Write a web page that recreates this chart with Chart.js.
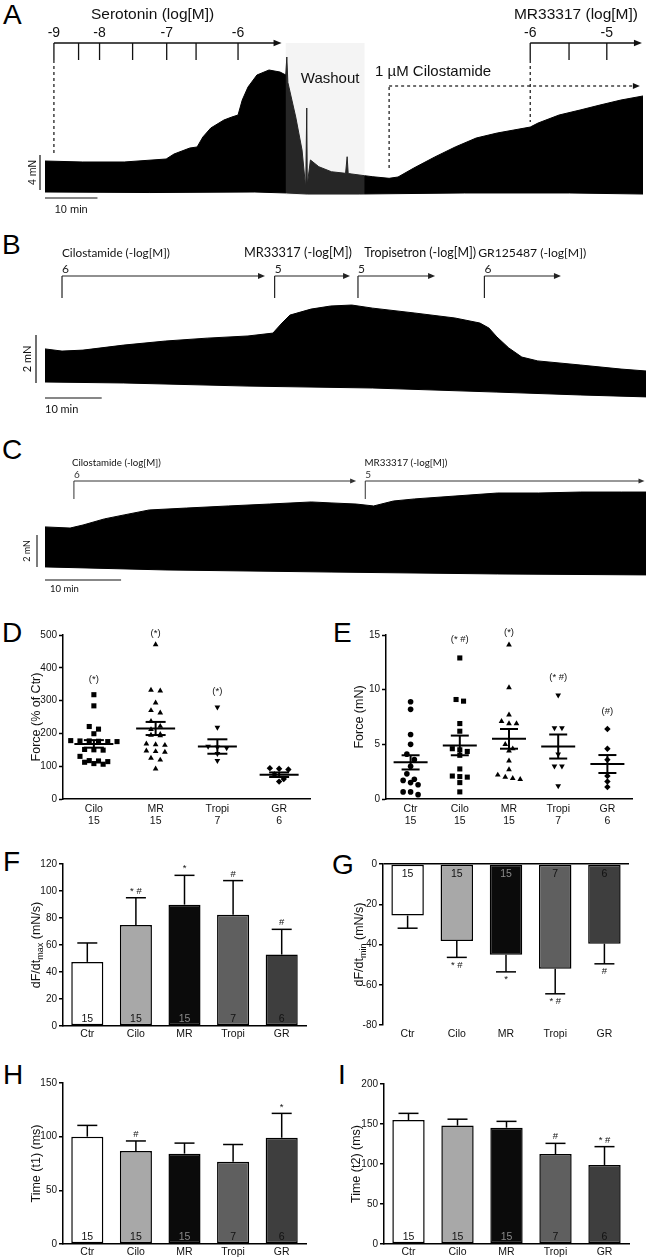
<!DOCTYPE html>
<html lang="en">
<head>
<meta charset="utf-8">
<title>Serotonin, cilostamide and 5-HT4 ligands on atrial force</title>
<script src="https://cdn.jsdelivr.net/npm/chart.js@4.4.1/dist/chart.umd.min.js"></script>
<style>
  html, body { margin: 0; padding: 0; background: #fff; }
  #fig { position: relative; width: 649px; height: 1259px; overflow: hidden; }
  #fig canvas { position: absolute; }
  .letter { position: absolute; font: 28px "Liberation Sans", Arial, sans-serif; line-height: 1; color: #000; }
</style>
</head>
<body>
<div id="fig">
  <div class="letter" style="left:3px;top:1px">A</div>
  <div class="letter" style="left:2px;top:231px">B</div>
  <div class="letter" style="left:2px;top:436px">C</div>
  <div class="letter" style="left:2px;top:619px">D</div>
  <div class="letter" style="left:333px;top:619px">E</div>
  <div class="letter" style="left:3px;top:848px">F</div>
  <div class="letter" style="left:332px;top:851px">G</div>
  <div class="letter" style="left:3px;top:1061px">H</div>
  <div class="letter" style="left:338px;top:1061px">I</div>
</div>
<script>
// ---- A: force trace, time in min, force in mN (upper / lower envelope)
const aTime = [0, 7.2, 15.1, 23.1, 24.6, 27.6, 29.0, 30.1, 31.6, 34.1, 35.6, 36.8, 37.6, 38.7, 40.4, 42.7, 44.8, 45.9,
  46.1, 46.3, 47.8, 49.0, 49.7, 49.9, 50.0, 50.6, 52.2, 54.6, 57.3, 57.6, 57.8, 58.5, 60.9, 62.5, 65.6, 67.3, 70.3,
  74.3, 78.2, 82.2, 86.2, 92.5, 94.0, 98.0, 102.0, 105.8, 109.8, 114];
const aTop = [4.44, 4.33, 4.33, 4.67, 5.24, 5.92, 6.04, 7.18, 8.20, 9.11, 9.45, 9.68, 11.39, 12.87, 14.24, 14.81, 14.58, 14.24,
  16.29, 13.4, 9.45, 5.69, 1.37, 10.48, 1.71, 4.56, 3.79, 3.22, 3.04, 4.93, 3.02, 2.96, 2.77, 2.65, 2.47, 2.62, 3.64,
  4.90, 6.04, 7.06, 7.63, 8.31, 8.77, 9.68, 10.25, 10.82, 11.39, 11.85];
const aBotTime = [0, 20, 40, 46, 50, 60, 80, 100, 114];
const aBot = [0.91, 0.85, 0.91, 0.8, 0.68, 0.68, 0.8, 0.8, 0.68];
const aSeroDoses = [1.7, 6.4, 10.4, 16.7, 23.2, 28.8, 36.8];
const aSeroLabels = ['-9', '', '-8', '', '-7', '', '-6'];
const aSeroEnd = 45.1;
const aMrDoses = [92.5, 99.9, 107.1];
const aMrLabels = ['-6', '', '-5'];
const aMrEnd = 113.8;
const aWashout = [45.9, 60.9];
const aCiloStart = 65.6, aCiloEnd = 113.4;

// ---- B
const bTime = [0, 3.0, 6.7, 13.9, 21.3, 28.6, 35.8, 40.2, 41.8, 43.2, 46.9, 50.4, 54.1, 57.8, 65.1, 72.3, 76.7, 78.3,
  79.7, 81.8, 84.1, 86.9, 94.4, 101.6, 106];
const bTop = [2.13, 2.04, 2.08, 2.29, 2.46, 2.58, 2.67, 2.79, 3.21, 3.54, 3.79, 3.92, 3.96, 3.83, 3.63, 3.42, 3.21, 3.0,
  2.63, 2.17, 1.79, 1.63, 1.46, 1.29, 1.21];
const bBotTime = [0, 13.9, 35.8, 57.8, 79.7, 94.4, 106];
const bBot = [0.75, 0.71, 0.58, 0.5, 0.33, 0.21, 0.13];
const bNames = ['Cilostamide (-log[M])', 'MR33317 (-log[M])', 'Tropisetron (-log[M])', 'GR125487 (-log[M])'];
const bConc = ['6', '5', '5', '6'];
const bDoses = [3.0, 40.5, 55.2, 77.5];
const bEnds = [38.8, 53.8, 68.8, 91.0];
const bNameAt = [3.0, 35.1, 56.3, 76.4];

// ---- C
const cTime = [0, 3.3, 5.0, 7.8, 10.4, 13.7, 18.6, 24.1, 29.5, 35.0, 37.6, 40.9, 43.2, 45.8, 48.6, 53.9, 59.5, 64.9, 70.4, 75.8, 79];
const cTop = [3.63, 3.56, 3.75, 4.13, 4.38, 4.69, 4.81, 4.94, 5.06, 5.19, 5.13, 5.06, 4.94, 5.25, 5.38, 5.56, 5.75, 5.75, 5.81, 5.81, 5.81];
const cBotTime = [0, 15.9, 37.6, 59.5, 79];
const cBot = [1.13, 0.94, 0.81, 0.69, 0.63];
const cNames = ['Cilostamide (-log[M])', 'MR33317 (-log[M])'];
const cConc = ['6', '5'];
const cDoses = [3.8, 42.1];
const cEnds = [40.9, 78.8];
const cNameAt = [3.55, 42.0];

// ---- D: force (% of Ctr)
const dCats = ['Cilo', 'MR', 'Tropi', 'GR'];
const dN = ['15', '15', '7', '6'];
const dCilo = [318, 284, 221, 213, 199, 178, 177, 177, 176, 175, 175, 151, 150, 149, 130, 117, 116, 114, 112, 108, 106];
const dMR = [471, 332, 330, 293, 270, 263, 237, 222, 212, 197, 195, 193, 168, 166, 164, 147, 145, 143, 125, 119, 92];
const dTropi = [280, 218, 160, 158, 156, 138, 117];
const dGR = [94, 92, 90, 75, 61, 53];
const dMean = [168, 215, 160, 74];
const dSem = [11.5, 20, 22, 7];
const dSig = ['(*)', '(*)', '(*)', ''];
const dSigAt = [365, 505, 327, 0];

// ---- E: force (mN)
const eCats = ['Ctr', 'Cilo', 'MR', 'Tropi', 'GR'];
const eN = ['15', '15', '15', '7', '6'];
const eCtr = [8.9, 8.2, 5.9, 5.0, 4.1, 3.6, 3.0, 2.3, 1.8, 1.7, 1.5, 1.3, 0.65, 0.65, 0.4];
const eCilo = [12.9, 9.1, 8.95, 6.9, 6.2, 4.6, 4.5, 4.35, 4.0, 2.75, 2.1, 2.05, 2.0, 1.5, 0.65];
const eMR = [14.1, 10.2, 7.7, 7.1, 6.9, 6.9, 5.0, 4.6, 4.4, 3.5, 2.7, 2.2, 2.0, 1.9, 1.8];
const eTropi = [9.5, 6.5, 6.5, 4.1, 3.0, 3.0, 1.2];
const eGR = [6.4, 4.6, 3.6, 2.1, 1.6, 1.1];
const eMean = [3.35, 4.9, 5.5, 4.8, 3.2];
const eSem = [0.65, 0.9, 0.9, 1.1, 0.82];
const eSig = ['', '(* #)', '(*)', '(* #)', '(#)'];
const eSigAt = [0, 14.6, 15.2, 11.15, 8.0];

// ---- F-I: bar charts (mean + SEM)
const barCats = ['Ctr', 'Cilo', 'MR', 'Tropi', 'GR'];
const barN = ['15', '15', '15', '7', '6'];
const fMean = [47.5, 74.8, 89.9, 82.5, 52.9];
const fSem = [14.0, 20.2, 21.7, 25.2, 18.7];
const fSig = ['', '* #', '*', '#', '#'];
const gMean = [-25.6, -38.2, -45.1, -52.0, -39.6];
const gSem = [6.3, 8.2, 8.5, 12.5, 10.0];
const gSig = ['', '* #', '*', '* #', '#'];
const hMean = [100, 86.7, 84.2, 76.7, 99];
const hSem = [10.5, 9.3, 9.8, 16, 22.7];
const hSig = ['', '#', '', '', '*'];
const iMean = [155, 148, 145.4, 112.5, 98.8];
const iSem = [8.3, 8, 7.9, 13.3, 22.9];
const iSig = ['', '', '', '#', '* #'];

const barColors = ['#ffffff', '#a8a8a8', '#0b0b0b', '#5f5f5f', '#3e3e3e'];
const nColors = ['#111', '#111', '#8a8a8a', '#111', '#111'];

const SANS = '"Liberation Sans", Arial, sans-serif';
const HUMAN = 'Lato, "Open Sans", sans-serif';

Chart.defaults.animation = false;
Chart.defaults.font.family = SANS;
Chart.defaults.plugins.legend.display = false;
Chart.defaults.plugins.tooltip.enabled = false;

const fig = document.getElementById('fig');

function addCanvas(b) {
  const c = document.createElement('canvas');
  c.width = b.w; c.height = b.h;
  c.style.left = b.x + 'px'; c.style.top = b.y + 'px';
  fig.appendChild(c);
  return c;
}
const xOf = ch => v => ch.scales.x.getPixelForValue(v);
const yOf = ch => v => ch.scales.y.getPixelForValue(v);

function line(ctx, x0, y0, x1, y1) {
  ctx.beginPath(); ctx.moveTo(x0, y0); ctx.lineTo(x1, y1); ctx.stroke();
}
function arrowHead(ctx, x, y, len, half) {
  ctx.beginPath(); ctx.moveTo(x, y); ctx.lineTo(x - len, y - half); ctx.lineTo(x - len, y + half); ctx.closePath(); ctx.fill();
}
function text(ctx, s, x, y, font, align, color) {
  ctx.font = font; ctx.textAlign = align || 'left'; ctx.textBaseline = 'middle';
  ctx.fillStyle = color || '#000'; ctx.fillText(s, x, y);
}
// size the font so the string spans the measured width
function fitText(ctx, s, x, y, width, family, color) {
  ctx.font = '100px ' + family;
  const size = 100 * width / ctx.measureText(s).width;
  text(ctx, s, x, y, size.toFixed(2) + 'px ' + family, 'left', color);
}
function vText(ctx, s, x, y, font, color) {
  ctx.save(); ctx.translate(x, y); ctx.rotate(-Math.PI / 2);
  text(ctx, s, 0, 0, font, 'center', color);
  ctx.restore();
}
function doseArrow(chart, doses, tEnd, labels, o) {
  const ctx = chart.ctx, X = xOf(chart);
  ctx.save();
  ctx.strokeStyle = o.color; ctx.fillStyle = o.color; ctx.lineWidth = o.lw;
  const xEnd = X(tEnd);
  line(ctx, X(doses[0]), o.y, xEnd - o.head + 1, o.y);
  arrowHead(ctx, xEnd, o.y, o.head, o.head * 0.42);
  doses.forEach((t, i) => {
    line(ctx, X(t), o.y, X(t), o.tickEnd);
    if (labels[i]) text(ctx, labels[i], X(t) + o.dx, o.labelY, o.font, o.align, o.color);
  });
  ctx.restore();
}

function traceChart(box, area, xMax, yMax, time, top, botTime, bot, marks) {
  const canvas = addCanvas(box);
  return new Chart(canvas, {
    type: 'line',
    data: { datasets: [
      { data: botTime.map((t, i) => ({ x: t, y: bot[i] })), borderColor: '#000', borderWidth: 1, pointRadius: 0, fill: false },
      { data: time.map((t, i) => ({ x: t, y: top[i] })), borderColor: '#000', borderWidth: 1, pointRadius: 0,
        backgroundColor: '#000', fill: '-1' }
    ] },
    options: {
      responsive: false,
      layout: { padding: { left: area.left, top: area.top, right: box.w - area.right, bottom: box.h - area.bottom } },
      scales: {
        x: { type: 'linear', display: false, min: 0, max: xMax },
        y: { type: 'linear', display: false, min: 0, max: yMax }
      }
    },
    plugins: [marks]
  });
}

// ---------- A
const aMarks = {
  id: 'aMarks',
  beforeDatasetsDraw(chart) {
    const ctx = chart.ctx, X = xOf(chart);
    ctx.save();
    ctx.fillStyle = '#f2f2f2';
    ctx.fillRect(X(aWashout[0]), 43, X(aWashout[1]) - X(aWashout[0]), 152);
    ctx.restore();
  },
  afterDatasetsDraw(chart) {
    const ctx = chart.ctx, X = xOf(chart), Y = yOf(chart);
    ctx.save();
    ctx.fillStyle = 'rgba(255,255,255,0.15)';
    ctx.fillRect(X(aWashout[0]), 43, X(aWashout[1]) - X(aWashout[0]), 152);
    text(ctx, 'Washout', (X(aWashout[0]) + X(aWashout[1])) / 2 + 5, 79, '15px ' + SANS, 'center', '#111');
    const st = { y: 43, tickEnd: 60, labelY: 33, dx: 0, align: 'center', font: '14px ' + SANS, color: '#111', lw: 1.3, head: 8 };
    doseArrow(chart, aSeroDoses, aSeroEnd, aSeroLabels, st);
    doseArrow(chart, aMrDoses, aMrEnd, aMrLabels, st);
    text(ctx, 'Serotonin (log[M])', 91, 15, '15.5px ' + SANS, 'left', '#111');
    text(ctx, 'MR33317 (log[M])', 638, 15, '15.5px ' + SANS, 'right', '#111');
    text(ctx, '1 µM Cilostamide', 375, 72, '15px ' + SANS, 'left', '#111');
    ctx.strokeStyle = '#111'; ctx.fillStyle = '#111'; ctx.lineWidth = 1.2;
    ctx.setLineDash([3, 3]);
    line(ctx, X(aSeroDoses[0]), 60, X(aSeroDoses[0]), 155);
    line(ctx, X(aMrDoses[0]), 60, X(aMrDoses[0]), 122);
    line(ctx, X(aCiloStart), 168, X(aCiloStart), 86);
    line(ctx, X(aCiloStart), 86, X(aCiloEnd) - 7, 86);
    ctx.setLineDash([]);
    arrowHead(ctx, X(aCiloEnd), 86, 7, 3);
    line(ctx, 40, Y(1.14), 40, Y(5.14));
    line(ctx, X(0), 198, X(10), 198);
    vText(ctx, '4 mN', 33, (Y(1.14) + Y(5.14)) / 2, '10.5px ' + SANS, '#111');
    text(ctx, '10 min', X(5), 210, '11px ' + SANS, 'center', '#111');
    ctx.restore();
  }
};
traceChart({ x: 0, y: 0, w: 649, h: 215 }, { left: 45, top: 42, right: 643, bottom: 200 }, 114, 18,
  aTime, aTop, aBotTime, aBot, aMarks);

// ---------- B
const bNameWidths = [108, 108, 112, 108];
const bMarks = {
  id: 'bMarks',
  afterDatasetsDraw(chart) {
    const ctx = chart.ctx, X = xOf(chart), Y = yOf(chart);
    ctx.save();
    bDoses.forEach((t, i) => {
      doseArrow(chart, [t], bEnds[i], [bConc[i]],
        { y: 61, tickEnd: 83, labelY: 54, dx: 0, align: 'left', font: '12px ' + HUMAN, color: '#222', lw: 1.2, head: 7 });
      fitText(ctx, bNames[i], X(bNameAt[i]), 38, bNameWidths[i], HUMAN, '#111');
    });
    ctx.strokeStyle = '#111'; ctx.lineWidth = 1.2;
    line(ctx, 36, Y(0.71), 36, Y(2.71));
    line(ctx, X(0), 183, X(10), 183);
    vText(ctx, '2 mN', 27, (Y(0.71) + Y(2.71)) / 2, '11px ' + HUMAN, '#111');
    text(ctx, '10 min', X(0), 194, '11px ' + HUMAN, 'left', '#111');
    ctx.restore();
  }
};
traceChart({ x: 0, y: 215, w: 649, h: 205 }, { left: 45, top: 85, right: 646, bottom: 185 }, 106, 4.17,
  bTime, bTop, bBotTime, bBot, bMarks);

// ---------- C
const cNameWidths = [89, 83];
const cMarks = {
  id: 'cMarks',
  afterDatasetsDraw(chart) {
    const ctx = chart.ctx, X = xOf(chart), Y = yOf(chart);
    ctx.save();
    cDoses.forEach((t, i) => {
      doseArrow(chart, [t], cEnds[i], [cConc[i]],
        { y: 61, tickEnd: 79, labelY: 55, dx: 0, align: 'left', font: '10px ' + HUMAN, color: '#333', lw: 1, head: 6 });
      fitText(ctx, cNames[i], X(cNameAt[i]), 43, cNameWidths[i], HUMAN, '#111');
    });
    ctx.strokeStyle = '#111'; ctx.lineWidth = 1.1;
    line(ctx, 37, Y(1.125), 37, Y(3.125));
    line(ctx, X(0), 160, X(10), 160);
    vText(ctx, '2 mN', 27, (Y(1.125) + Y(3.125)) / 2, '9px ' + HUMAN, '#111');
    text(ctx, '10 min', X(0) + 5, 169, '9.5px ' + HUMAN, 'left', '#111');
    ctx.restore();
  }
};
traceChart({ x: 0, y: 420, w: 649, h: 180 }, { left: 45, top: 65, right: 646, bottom: 165 }, 79, 6.25,
  cTime, cTop, cBotTime, cBot, cMarks);

// ---------- shared pieces for D-I
function yTitle(parts, offset) {
  return {
    id: 'yTitle',
    afterDraw(chart) {
      const ctx = chart.ctx, a = chart.chartArea;
      ctx.save();
      ctx.translate(a.left - offset, (a.top + a.bottom) / 2);
      ctx.rotate(-Math.PI / 2);
      ctx.fillStyle = '#111'; ctx.textBaseline = 'middle'; ctx.textAlign = 'left';
      const fonts = parts.map(p => (p[1] ? '9px ' : '12.5px ') + SANS);
      let total = 0;
      parts.forEach((p, i) => { ctx.font = fonts[i]; total += ctx.measureText(p[0]).width; });
      let x = -total / 2;
      parts.forEach((p, i) => {
        ctx.font = fonts[i];
        ctx.fillText(p[0], x, p[1] ? 3.5 : 0);
        x += ctx.measureText(p[0]).width;
      });
      ctx.restore();
    }
  };
}

// column scatter layout: points of similar value share a row, centred on the column
function swarm(values, col, thr, dx) {
  const pts = [];
  let row = [];
  const flush = () => {
    row.forEach((v, j) => pts.push({ x: col + (j - (row.length - 1) / 2) * dx, y: v }));
    row = [];
  };
  values.slice().sort((a, b) => b - a).forEach(v => {
    if (row.length && row[0] - v >= thr) flush();
    row.push(v);
  });
  flush();
  return pts;
}

const shapes = {
  circle: { pointStyle: 'circle', pointRadius: 2.8, pointRotation: 0 },
  square: { pointStyle: 'rect', pointRadius: 3.6, pointRotation: 0 },
  up: { pointStyle: 'triangle', pointRadius: 3.3, pointRotation: 0 },
  down: { pointStyle: 'triangle', pointRadius: 3.3, pointRotation: 180 },
  diamond: { pointStyle: 'rectRot', pointRadius: 3.2, pointRotation: 0 }
};

const plainTick = v => (v < 0 ? '-' : '') + Math.abs(v);

function dotChart(box, area, cats, ns, groups, styles, means, sems, sig, sigAt, yMax, yStep, title, o) {
  const canvas = addCanvas(box);
  const datasets = groups.map((vals, i) => Object.assign({
    data: swarm(vals, i, o.thr, o.dx),
    pointBackgroundColor: '#000', pointBorderWidth: 0, showLine: false
  }, shapes[styles[i]]));
  const meanSem = {
    id: 'meanSem',
    afterDatasetsDraw(chart) {
      const ctx = chart.ctx, X = xOf(chart), Y = yOf(chart);
      ctx.save();
      ctx.strokeStyle = '#000'; ctx.lineWidth = 2;
      means.forEach((m, i) => {
        const cx = X(i), hi = Y(m + sems[i]), lo = Y(m - sems[i]);
        line(ctx, cx - o.half, Y(m), cx + o.half, Y(m));
        line(ctx, cx - o.cap, hi, cx + o.cap, hi);
        line(ctx, cx - o.cap, lo, cx + o.cap, lo);
        line(ctx, cx, hi, cx, lo);
        if (sig[i]) text(ctx, sig[i], cx, Y(sigAt[i]), '9.5px ' + SANS, 'center', '#111');
      });
      ctx.restore();
    }
  };
  return new Chart(canvas, {
    type: 'scatter',
    data: { datasets },
    options: {
      responsive: false,
      layout: { padding: { top: area.top, right: box.w - area.right, left: 0, bottom: 0 } },
      scales: {
        x: {
          type: 'linear', min: -0.5, max: cats.length - 0.5,
          afterBuildTicks: s => { s.ticks = cats.map((c, i) => ({ value: i })); },
          afterFit: s => { s.height = box.h - area.bottom; },
          ticks: { callback: v => [cats[v], ns[v]], font: { size: 10.5, lineHeight: 1.15 }, color: '#111',
            padding: 4, maxRotation: 0, autoSkip: false },
          grid: { display: false, drawTicks: false },
          border: { color: '#000', width: 1.5 }
        },
        y: {
          min: 0, max: yMax,
          afterFit: s => { s.width = area.left; },
          ticks: { stepSize: yStep, font: { size: 10 }, color: '#111', padding: 2, callback: plainTick },
          grid: { drawOnChartArea: false, tickLength: 4, color: '#000', tickColor: '#000', tickWidth: 1.5 },
          border: { color: '#000', width: 1.5 }
        }
      }
    },
    plugins: [meanSem, yTitle(title, 26)]
  });
}

function barChart(box, area, means, sems, sig, yMin, yMax, yStep, title, o) {
  const canvas = addCanvas(box);
  const neg = yMax <= 0;
  const errors = {
    id: 'errors',
    afterDatasetsDraw(chart) {
      const ctx = chart.ctx, Y = yOf(chart);
      const bars = chart.getDatasetMeta(0).data;
      const zero = Y(0);
      ctx.save();
      ctx.strokeStyle = '#000'; ctx.lineWidth = 1.5;
      bars.forEach((bar, i) => {
        const m = means[i], end = m < 0 ? m - sems[i] : m + sems[i];
        const y1 = Y(end);
        line(ctx, bar.x, Y(m), bar.x, y1);
        line(ctx, bar.x - 10, y1, bar.x + 10, y1);
        if (sig[i]) text(ctx, sig[i], bar.x, m < 0 ? y1 + 8 : y1 - 6.5, '9.5px ' + SANS, 'center', '#111');
        text(ctx, barN[i], bar.x, neg ? zero + 10 : zero - 7, '10.5px ' + SANS, 'center', nColors[i]);
      });
      ctx.restore();
    }
  };
  return new Chart(canvas, {
    type: 'bar',
    data: {
      labels: barCats,
      datasets: [{ data: means, backgroundColor: barColors, borderColor: '#000', borderWidth: 1.5,
        borderSkipped: false, barPercentage: 0.66, categoryPercentage: 1 }]
    },
    options: {
      responsive: false,
      layout: { padding: { top: area.top, right: box.w - area.right, left: 0, bottom: 0 } },
      scales: {
        x: {
          afterFit: s => { s.height = box.h - area.bottom; },
          ticks: { font: { size: 10.5 }, color: '#111', padding: o.labelPad, maxRotation: 0 },
          grid: { display: false, drawTicks: false },
          border: { display: !neg, color: '#000', width: 1.5 }
        },
        y: {
          min: yMin, max: yMax,
          afterFit: s => { s.width = area.left; },
          ticks: { stepSize: yStep, font: { size: 10 }, color: '#111', padding: 2, callback: plainTick },
          grid: {
            drawOnChartArea: neg, tickLength: 4, tickColor: '#000', tickWidth: 1.5, lineWidth: 1.5,
            color: c => (c.tick && c.tick.value === 0) ? '#000' : 'rgba(0,0,0,0)'
          },
          border: { color: '#000', width: 1.5 }
        }
      }
    },
    plugins: [errors, yTitle(title, o.titleOffset)]
  });
}

// ---------- D, E
dotChart({ x: 0, y: 600, w: 325, h: 232 }, { left: 63, top: 35, right: 310, bottom: 199 },
  dCats, dN, [dCilo, dMR, dTropi, dGR], ['square', 'up', 'down', 'diamond'],
  dMean, dSem, dSig, dSigAt, 500, 100, [['Force (% of Ctr)', false]],
  { thr: 16.8, dx: 0.15, half: 19.5, cap: 10 });

dotChart({ x: 325, y: 600, w: 324, h: 232 }, { left: 61, top: 35, right: 307, bottom: 199 },
  eCats, eN, [eCtr, eCilo, eMR, eTropi, eGR], ['circle', 'square', 'up', 'down', 'diamond'],
  eMean, eSem, eSig, eSigAt, 15, 5, [['Force (mN)', false]],
  { thr: 0.5, dx: 0.152, half: 17, cap: 9 });

// ---------- F, G, H, I
barChart({ x: 0, y: 840, w: 325, h: 210 }, { left: 63, top: 24, right: 306, bottom: 186 },
  fMean, fSem, fSig, 0, 120, 20, [['dF/dt', false], ['max', true], [' (mN/s)', false]], { labelPad: 2, titleOffset: 26 });

barChart({ x: 325, y: 840, w: 324, h: 210 }, { left: 58, top: 24, right: 304, bottom: 185 },
  gMean, gSem, gSig, -80, 0, 20, [['dF/dt', false], ['min', true], [' (mN/s)', false]], { labelPad: 3, titleOffset: 23 });

barChart({ x: 0, y: 1060, w: 325, h: 199 }, { left: 63, top: 23, right: 306, bottom: 184 },
  hMean, hSem, hSig, 0, 150, 50, [['Time (t1) (ms)', false]], { labelPad: 2, titleOffset: 26 });

barChart({ x: 325, y: 1060, w: 324, h: 199 }, { left: 59, top: 24, right: 304, bottom: 184 },
  iMean, iSem, iSig, 0, 200, 50, [['Time (t2) (ms)', false]], { labelPad: 2, titleOffset: 27 });
</script>
</body>
</html>
